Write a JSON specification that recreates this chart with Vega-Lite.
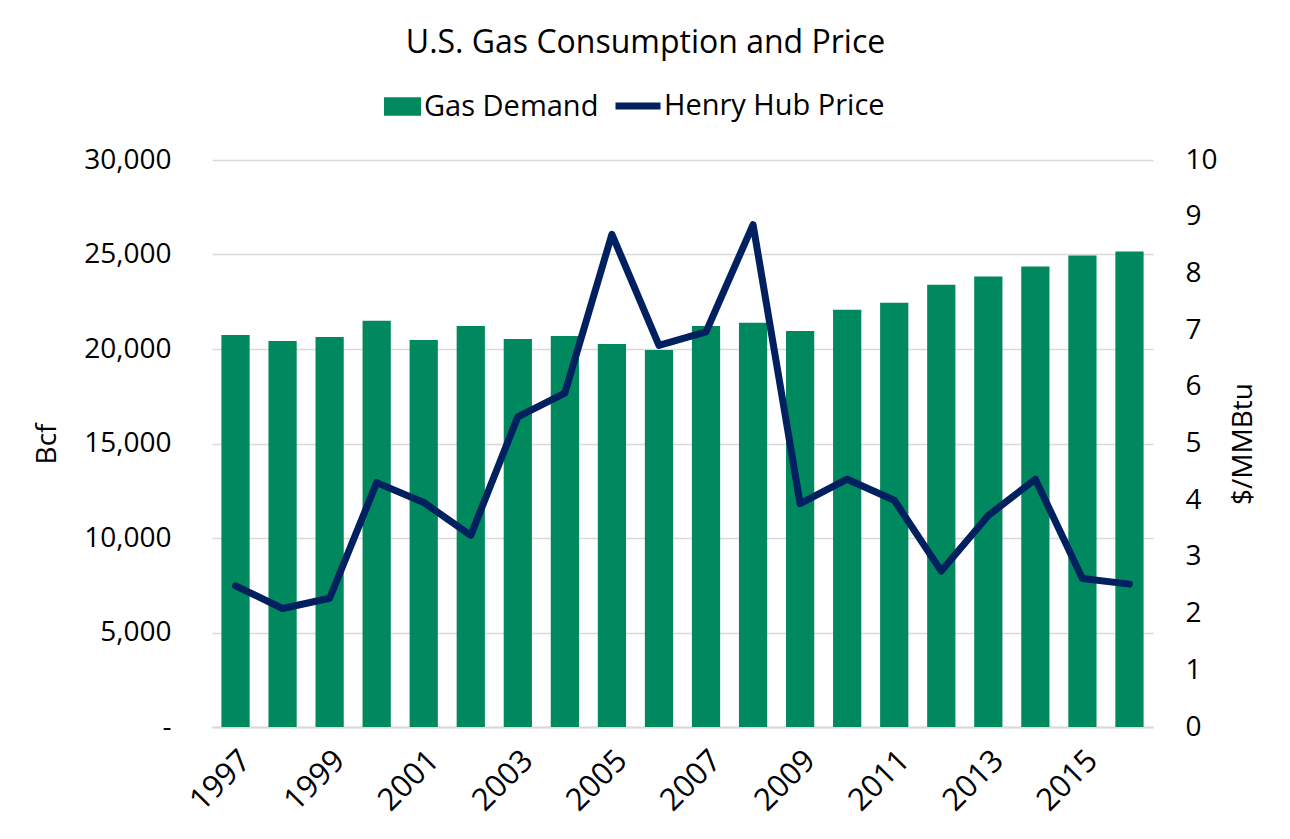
{
  "$schema": "https://vega.github.io/schema/vega-lite/v6.json",
  "autosize": {"type": "none"},
  "width": 941,
  "height": 567,
  "padding": {"left": 212, "top": 160, "right": 137, "bottom": 112},
  "background": "white",
  "config": {
    "font": "Open Sans",
    "view": {"stroke": null},
    "axis": {"labelFont": "Open Sans", "titleFont": "Open Sans", "labelColor": "#000000", "titleColor": "#000000", "labelFontSize": 28, "titleFontSize": 28, "titleFontWeight": "normal"},
    "legend": {"labelFont": "Open Sans", "labelFontSize": 29, "labelColor": "#000000", "labelLimit": 0}
  },
  "title": {"text": "U.S. Gas Consumption and Price", "fontSize": 32, "fontWeight": "normal", "font": "Open Sans", "color": "#000000", "anchor": "middle", "dx": -37, "offset": 20},
  "data": {"values": [
    {"year": 1997, "demand": 20745, "price": 2.49},
    {"year": 1998, "demand": 20426, "price": 2.09},
    {"year": 1999, "demand": 20638, "price": 2.27},
    {"year": 2000, "demand": 21489, "price": 4.31},
    {"year": 2001, "demand": 20479, "price": 3.96},
    {"year": 2002, "demand": 21223, "price": 3.38},
    {"year": 2003, "demand": 20532, "price": 5.47},
    {"year": 2004, "demand": 20691, "price": 5.89},
    {"year": 2005, "demand": 20266, "price": 8.69},
    {"year": 2006, "demand": 19947, "price": 6.73},
    {"year": 2007, "demand": 21223, "price": 6.97},
    {"year": 2008, "demand": 21383, "price": 8.86},
    {"year": 2009, "demand": 20957, "price": 3.94},
    {"year": 2010, "demand": 22074, "price": 4.37},
    {"year": 2011, "demand": 22447, "price": 4.00},
    {"year": 2012, "demand": 23404, "price": 2.75},
    {"year": 2013, "demand": 23830, "price": 3.73},
    {"year": 2014, "demand": 24362, "price": 4.37},
    {"year": 2015, "demand": 24947, "price": 2.62},
    {"year": 2016, "demand": 25160, "price": 2.52}
  ]},
  "encoding": {
    "x": {
      "field": "year", "type": "ordinal",
      "scale": {"paddingInner": 0.4, "paddingOuter": 0.2},
      "axis": {"title": null, "values": [1997, 1999, 2001, 2003, 2005, 2007, 2009, 2011, 2013, 2015], "labelAngle": -45, "labelFontSize": 31, "ticks": false, "labelPadding": 18, "domainColor": "#d9d9d9", "domainWidth": 2, "grid": false}
    }
  },
  "layer": [
    {
      "mark": {"type": "bar", "color": "#00885E"},
      "encoding": {
        "y": {"field": "demand", "type": "quantitative", "scale": {"domain": [0, 30000]},
          "axis": {"title": "Bcf", "values": [0, 5000, 10000, 15000, 20000, 25000, 30000], "labelExpr": "datum.value == 0 ? '-' : format(datum.value, ',')", "domain": false, "ticks": false, "labelPadding": 41, "titlePadding": 22, "gridColor": "#d9d9d9", "gridWidth": 1.5}},
        "fill": {"datum": "Gas Demand", "type": "nominal", "scale": {"range": ["#00885E"]},
          "legend": {"title": null, "orient": "none", "legendX": 172, "legendY": -72, "symbolType": "M-1,-0.5H1V0.5H-1Z", "symbolSize": 1369, "symbolStrokeWidth": 0, "labelOffset": 3, "symbolOpacity": 1}}
      }
    },
    {
      "mark": {"type": "line", "color": "#002060", "strokeWidth": 7, "strokeJoin": "round", "strokeCap": "round"},
      "encoding": {
        "y": {"field": "price", "type": "quantitative", "scale": {"domain": [0, 10]},
          "axis": {"title": "$/MMBtu", "orient": "right", "values": [0, 1, 2, 3, 4, 5, 6, 7, 8, 9, 10], "domain": false, "ticks": false, "grid": false, "labelPadding": 32, "titlePadding": 40, "titleAngle": -90}},
        "stroke": {"datum": "Henry Hub Price", "type": "nominal", "scale": {"range": ["#002060"]},
          "legend": {"title": null, "orient": "none", "legendX": 400, "legendY": -80, "symbolType": "stroke", "symbolSize": 2025, "symbolStrokeWidth": 7, "labelOffset": 0}}
      }
    }
  ],
  "resolve": {"scale": {"y": "independent"}}
}
